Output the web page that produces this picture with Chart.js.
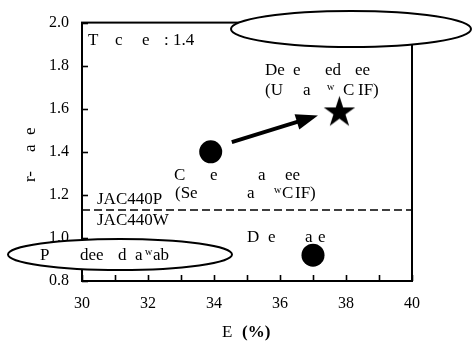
<!DOCTYPE html>
<html><head><meta charset="utf-8">
<script src="https://cdn.jsdelivr.net/npm/chart.js@4/dist/chart.umd.min.js"></script>
<style>html,body{margin:0;padding:0;background:#fff}</style>
</head><body>
<canvas id="c" width="473" height="344" style="display:block"></canvas>
<script>
// ---- data ----
const circleX = [33.9, 37.0];      // elongation (%)
const circleY = [1.40, 0.92];      // ratio
const starX = [37.8];
const starY = [1.59];
const arrowFrom = [34.54, 1.445];
const arrowTo = [37.15, 1.569];
const jacLevel = 1.13;
const xMin = 30, xMax = 40, xStep = 1;
const yMin = 0.8, yMax = 2.0, yStep = 0.2;

const SERIF = '"Liberation Serif", "Times New Roman", serif';

// star marker image
function makeStar(R) {
  const s = Math.ceil(R * 2 + 4);
  const cv = document.createElement('canvas');
  cv.width = s; cv.height = s;
  const g = cv.getContext('2d');
  const cx = s / 2, cy = s / 2 + R * 0.095;
  const r = R * 0.382;
  g.beginPath();
  for (let i = 0; i < 10; i++) {
    const a = -Math.PI / 2 + i * Math.PI / 5;
    const rr = i % 2 === 0 ? R : r;
    const px = cx + rr * Math.cos(a), py = cy + rr * Math.sin(a);
    if (i === 0) g.moveTo(px, py); else g.lineTo(px, py);
  }
  g.closePath();
  g.fillStyle = '#000';
  g.fill();
  return cv;
}
const starImg = makeStar(16.5);

const deco = {
  id: 'deco',
  afterDraw(chart) {
    const ctx = chart.ctx;
    const xs = chart.scales.x, ys = chart.scales.y;
    const ca = chart.chartArea;
    ctx.save();
    ctx.strokeStyle = '#000';
    ctx.fillStyle = '#000';
    // frame
    ctx.lineWidth = 2;
    ctx.strokeRect(ca.left, ca.top, ca.right - ca.left, ca.bottom - ca.top);
    // inward tick marks
    ctx.lineWidth = 1.6;
    xs.ticks.forEach(t => {
      const px = Math.round(xs.getPixelForValue(t.value)) + 0.5;
      ctx.beginPath(); ctx.moveTo(px, ca.bottom); ctx.lineTo(px, ca.bottom - 6); ctx.stroke();
    });
    ys.ticks.forEach(t => {
      const py = Math.round(ys.getPixelForValue(t.value)) + 0.5;
      ctx.beginPath(); ctx.moveTo(ca.left, py); ctx.lineTo(ca.left + 6, py); ctx.stroke();
    });
    // dashed reference line
    const yd = ys.getPixelForValue(jacLevel);
    ctx.lineWidth = 1.5;
    ctx.setLineDash([8, 4]);
    ctx.beginPath(); ctx.moveTo(ca.left, yd); ctx.lineTo(ca.right, yd); ctx.stroke();
    ctx.setLineDash([]);
    // arrow
    const x1 = xs.getPixelForValue(arrowFrom[0]), y1 = ys.getPixelForValue(arrowFrom[1]);
    const x2 = xs.getPixelForValue(arrowTo[0]), y2 = ys.getPixelForValue(arrowTo[1]);
    const ang = Math.atan2(y2 - y1, x2 - x1);
    const hl = 22, hw = 8;
    const bx = x2 - hl * Math.cos(ang), by = y2 - hl * Math.sin(ang);
    ctx.lineWidth = 4;
    ctx.beginPath(); ctx.moveTo(x1, y1); ctx.lineTo(bx + 2 * Math.cos(ang), by + 2 * Math.sin(ang)); ctx.stroke();
    ctx.beginPath();
    ctx.moveTo(x2, y2);
    ctx.lineTo(bx + hw * Math.sin(ang), by - hw * Math.cos(ang));
    ctx.lineTo(bx - hw * Math.sin(ang), by + hw * Math.cos(ang));
    ctx.closePath(); ctx.fill();
    // ellipses
    ctx.lineWidth = 2;
    function ell(cx, cy, rx, ry) {
      ctx.beginPath(); ctx.ellipse(cx, cy, rx, ry, 0, 0, Math.PI * 2);
      ctx.fillStyle = '#fff'; ctx.fill(); ctx.stroke(); ctx.fillStyle = '#000';
    }
    ell(351, 29, 120, 18);
    ell(120, 254.5, 112, 15.5);
    // texts
    ctx.font = '17px ' + SERIF;
    ctx.textBaseline = 'alphabetic';
    ctx.textAlign = 'left';
    function frags(y, list) { list.forEach(([s, x]) => ctx.fillText(s, x, y)); }
    frags(45, [['T', 88], ['c', 115], ['e', 142], [': 1.4', 164]]);
    frags(75, [['De', 265], ['e', 293], ['ed', 325], ['ee', 355]]);
    frags(95, [['(U', 265], ['a', 303], ['ʷ', 327], ['C', 343], ['IF)', 358]]);
    frags(180, [['C', 174], ['e', 210], ['a', 258], ['ee', 285]]);
    frags(198, [['(Se', 175], ['a', 247], ['ʷ', 274], ['C', 282], ['IF)', 295]]);
    frags(204, [['JAC440P', 97]]);
    frags(225, [['JAC440W', 97]]);
    frags(242, [['D', 247], ['e', 268], ['a', 305], ['e', 318]]);
    frags(260, [['P', 40], ['dee', 80], ['d', 118], ['a', 135], ['ʷ', 145], ['ab', 153]]);
    // x title
    ctx.fillText('E', 222, 337);
    ctx.font = 'bold 17px ' + SERIF;
    ctx.fillText('(%)', 242, 337);
    // y title
    ctx.font = '17px ' + SERIF;
    ctx.translate(35, 0);
    ctx.rotate(-Math.PI / 2);
    ctx.fillText('r-', -182, 0);
    ctx.fillText('a', -152, 0);
    ctx.fillText('e', -135, 0);
    ctx.restore();
  }
};

new Chart(document.getElementById('c'), {
  type: 'scatter',
  data: {
    datasets: [
      {
        data: circleX.map((x, i) => ({ x, y: circleY[i] })),
        pointStyle: 'circle', pointRadius: 11.5, pointHoverRadius: 11.5,
        backgroundColor: '#000', borderWidth: 0
      },
      {
        data: starX.map((x, i) => ({ x, y: starY[i] })),
        pointStyle: starImg, pointRadius: 16, backgroundColor: '#000', borderWidth: 0
      }
    ]
  },
  options: {
    responsive: false,
    animation: false,
    events: [],
    layout: { padding: { left: 0, top: 22, right: 61, bottom: 0 } },
    plugins: { legend: { display: false }, tooltip: { enabled: false } },
    scales: {
      x: {
        type: 'linear', min: xMin, max: xMax,
        grid: { display: false, drawTicks: false },
        border: { display: false },
        afterFit: s => { s.height = 63; },
        ticks: {
          stepSize: xStep, padding: 13, color: '#000', maxRotation: 0, autoSkip: false,
          font: { family: SERIF, size: 16 },
          callback: v => (Math.round(v) % 2 === 0 ? String(Math.round(v)) : '')
        }
      },
      y: {
        type: 'linear', min: yMin, max: yMax,
        grid: { display: false, drawTicks: false },
        border: { display: false },
        afterFit: s => { s.width = 82; },
        ticks: {
          stepSize: yStep, padding: 13, color: '#000', autoSkip: false,
          font: { family: SERIF, size: 16 },
          callback: v => Number(v).toFixed(1)
        }
      }
    }
  },
  plugins: [deco]
});
</script>
</body></html>
